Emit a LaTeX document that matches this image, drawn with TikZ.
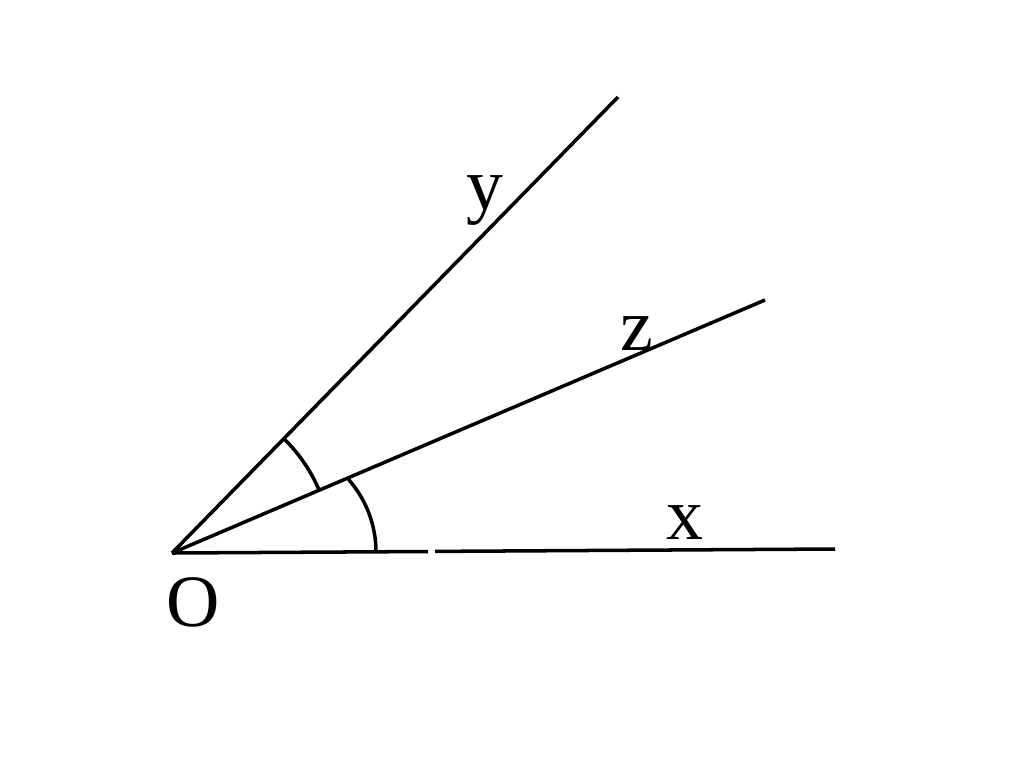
\documentclass[tikz,border=0pt]{standalone}
\usepackage{fontspec}
\usetikzlibrary{calc}
\setmainfont{Liberation Serif}
\begin{document}
\begin{tikzpicture}[x=0.01cm,y=-0.01cm,
  ray/.style={line width=1pt},
  lbl/.style={font=\fontsize{21}{24}\selectfont, inner sep=0pt}]
\useasboundingbox[fill=white] (0,0) rectangle (1024,757);
\coordinate (O) at (172,553);
\coordinate (X) at (835,549);
\coordinate (Z) at (765,300);
\coordinate (Y) at (618,97);
\coordinate (G1) at (428,551.5);
\coordinate (G2) at (435,551.4);
\draw[ray] (O) -- (G1);
\draw[ray] (G2) -- (X);
\draw[ray] (O) -- (Z);
\draw[ray] (O) -- (Y);
\draw[ray] ($(O)+(-45.6:160)$) arc[start angle=-45.6,end angle=-23.1,radius=160];
\coordinate (A2) at (376,552);
\draw[ray] (A2) arc[start angle=0,end angle=-41.5,radius=109.5];
\node[lbl] (ly) at (485,201) {y};
\node[lbl] (lz) at (637,334) {z};
\node[lbl] (lx) at (685,523) {x};
\node[lbl] (lo) at (193,602) {O};
\end{tikzpicture}
\end{document}
